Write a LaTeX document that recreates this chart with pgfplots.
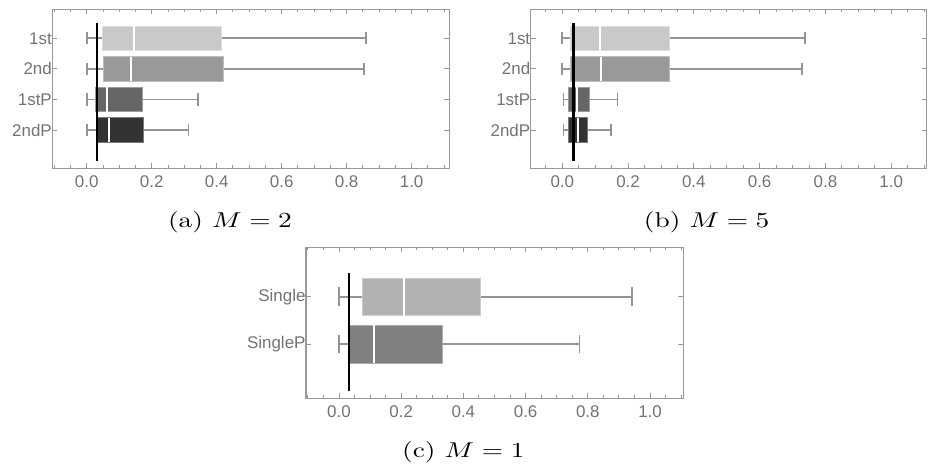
\documentclass[border=0pt]{standalone}
\usepackage{pgfplots}
\pgfplotsset{compat=1.18}
\usepgfplotslibrary{statistics}
\usepackage{fontspec}
\newfontfamily\tickfont{Liberation Sans}

\definecolor{framegray}{gray}{0.60}
\definecolor{whiskgray}{gray}{0.58}
\definecolor{labelgray}{gray}{0.45}
\definecolor{cFirst}{gray}{0.79}
\definecolor{cSecond}{gray}{0.60}
\definecolor{cFirstP}{gray}{0.40}
\definecolor{cSecondP}{gray}{0.20}
\definecolor{cSingle}{gray}{0.70}
\definecolor{cSingleP}{gray}{0.50}

\pgfplotsset{
  boxpanel/.style={
    scale only axis, anchor=south west,
    axis line style={framegray, line width=1.3bp},
    tick style={framegray, line width=0.9bp},
    tick align=inside,
    major tick length=5bp, minor tick length=3bp,
    xtick={0,0.2,0.4,0.6,0.8,1.0},
    minor xtick={-0.1,-0.05,0.05,0.1,0.15,0.25,0.3,0.35,0.45,0.5,0.55,0.65,0.7,0.75,0.85,0.9,0.95,1.05,1.1},
    ticklabel style={font=\tickfont\fontsize{17}{20}\selectfont, text=labelgray},
    xticklabel style={yshift=-4bp,
      /pgf/number format/.cd, fixed, fixed zerofill, precision=1, assume math mode=true},
    yticklabel style={xshift=3bp},
    boxplot/draw direction=x,
    boxplot/box extend=0.8,
    boxplot/whisker extend=0.4,
    boxplot/every whisker/.style={draw=whiskgray, line width=1.8bp},
    boxplot/every median/.style={draw=white, line width=2bp},
  },
  fillbox/.style={boxplot/every box/.style={fill=#1, draw=#1!65!white, line width=0.8bp}},
}

% subfigure captions, set wide as in the printed figure
\newcommand\subcap[1]{\scalebox{2.75}[2.15]{#1}}

\begin{document}
\begin{tikzpicture}
\useasboundingbox (0,0) rectangle (935bp,464bp);

% (a) M = 2
\begin{axis}[boxpanel, at={(52.3bp,295.7bp)}, width=397bp, height=159bp,
  xmin=-0.106, xmax=1.116, ymin=-0.254, ymax=4.95,
  ytick={1,2,3,4}, yticklabels={2ndP,1stP,2nd,1st}]
  \addplot[fillbox=cFirst, boxplot prepared={lower whisker=0.0, lower quartile=0.047,
    median=0.146, upper quartile=0.413, upper whisker=0.859, draw position=4}] coordinates {};
  \addplot[fillbox=cSecond, boxplot prepared={lower whisker=0.0, lower quartile=0.051,
    median=0.135, upper quartile=0.422, upper whisker=0.854, draw position=3}] coordinates {};
  \addplot[fillbox=cFirstP, boxplot prepared={lower whisker=0.0, lower quartile=0.028,
    median=0.061, upper quartile=0.172, upper whisker=0.343, draw position=2}] coordinates {};
  \addplot[fillbox=cSecondP, boxplot prepared={lower whisker=0.0, lower quartile=0.031,
    median=0.067, upper quartile=0.174, upper whisker=0.313, draw position=1}] coordinates {};
  \addplot[black, line width=2.2bp] coordinates {(0.032,0) (0.032,4.5)};
\end{axis}

% (b) M = 5
\begin{axis}[boxpanel, at={(530.7bp,295.7bp)}, width=396bp, height=159bp,
  xmin=-0.096, xmax=1.108, ymin=-0.254, ymax=4.95,
  ytick={1,2,3,4}, yticklabels={2ndP,1stP,2nd,1st}]
  \addplot[fillbox=cFirst, boxplot prepared={lower whisker=0.0, lower quartile=0.025,
    median=0.115, upper quartile=0.327, upper whisker=0.738, draw position=4}] coordinates {};
  \addplot[fillbox=cSecond, boxplot prepared={lower whisker=0.0, lower quartile=0.025,
    median=0.117, upper quartile=0.325, upper whisker=0.729, draw position=3}] coordinates {};
  \addplot[fillbox=cFirstP, boxplot prepared={lower whisker=0.004, lower quartile=0.020,
    median=0.046, upper quartile=0.082, upper whisker=0.168, draw position=2}] coordinates {};
  \addplot[fillbox=cSecondP, boxplot prepared={lower whisker=0.004, lower quartile=0.018,
    median=0.049, upper quartile=0.077, upper whisker=0.147, draw position=1}] coordinates {};
  \addplot[black, line width=2.2bp] coordinates {(0.034,0) (0.034,4.5)};
\end{axis}

% (c) M = 1
\begin{axis}[boxpanel, at={(306bp,65.7bp)}, width=377.3bp, height=151bp,
  xmin=-0.106, xmax=1.107, ymin=-0.15, ymax=3.05,
  ytick={1,2}, yticklabels={SingleP,Single}]
  \addplot[fillbox=cSingle, boxplot prepared={lower whisker=0.0, lower quartile=0.076,
    median=0.210, upper quartile=0.456, upper whisker=0.943, draw position=2}] coordinates {};
  \addplot[fillbox=cSingleP, boxplot prepared={lower whisker=0.0, lower quartile=0.032,
    median=0.114, upper quartile=0.334, upper whisker=0.773, draw position=1}] coordinates {};
  \addplot[black, line width=2.2bp] coordinates {(0.033,0) (0.033,2.5)};
\end{axis}

\node[anchor=base] at (230bp,236bp) {\subcap{(a) $M=2$}};
\node[anchor=base] at (706.7bp,236bp) {\subcap{(b) $M=5$}};
\node[anchor=base] at (463.3bp,6.3bp) {\subcap{(c) $M=1$}};
\end{tikzpicture}
\end{document}
